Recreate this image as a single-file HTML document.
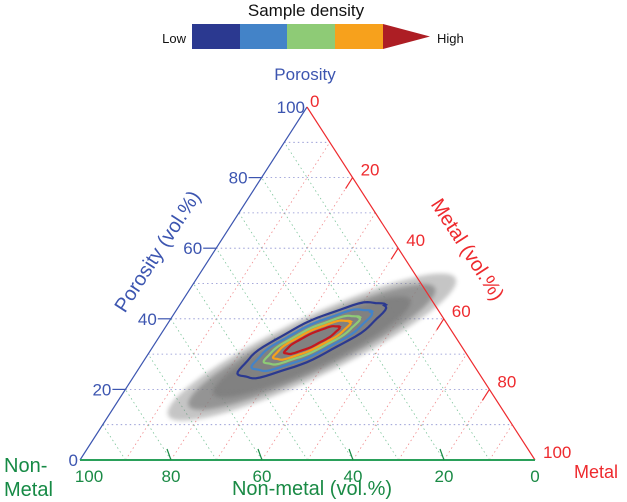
<!DOCTYPE html>
<html><head><meta charset="utf-8"><style>
html,body{margin:0;padding:0;background:#fff;}
svg{display:block;font-family:"Liberation Sans",Arial,sans-serif;}
</style></head><body>
<svg id="chart" width="627" height="502" viewBox="0 0 627 502">
<g>
  <text x="306" y="16" font-size="17" text-anchor="middle" fill="#111">Sample density</text>
  <text x="186" y="43" font-size="13" text-anchor="end" fill="#111">Low</text>
  <rect x="192" y="24" width="48" height="25" fill="#2b3990"/>
  <rect x="240" y="24" width="47" height="25" fill="#4383c8"/>
  <rect x="287" y="24" width="48" height="25" fill="#8ecb76"/>
  <rect x="335" y="24" width="48" height="25" fill="#f7a11c"/>
  <polygon points="383,24 430,36.5 383,49" fill="#ad1e24"/>
  <text x="437" y="43" font-size="13" fill="#111">High</text>
</g>
<text x="305" y="80" font-size="17" text-anchor="middle" fill="#3c55b0">Porosity</text>
<text x="4" y="472" font-size="20" fill="#168a45"><tspan x="4">Non-</tspan><tspan x="4" dy="24">Metal</tspan></text>
<text x="574" y="478" font-size="18" fill="#ee2a2e">Metal</text>
<g id="grid"></g>
<g id="cloud"></g>
<g id="contours"></g>
<g id="axes"></g>
</svg>
<script>
// Data (ternary: porosity P, metal M, non-metal = 100-P-M)
const tickValues = [0, 20, 40, 60, 80, 100];
const gridValues = [10, 20, 30, 40, 50, 60, 70, 80, 90];
const cloudCenter = [32, 35];            // [porosity, metal]
const cloudMajor = [35, 30, 24];         // semi-axis along trend (vol.% of side)
const cloudMinor = [6.5, 5.4, 4.5];
const cloudOpacity = [0.45, 0.7, 0.95];
const contourNames = ['level-1', 'level-2', 'level-3', 'level-4', 'level-5'];
const contourCenter = [34, 34];
const contourMajor = [17.6, 14.3, 11.4, 9.2, 6.6];
const contourMinor = [3.9, 3.1, 2.4, 1.9, 1.3];
const contourColors = ['#2b3990', '#4383c8', '#8ecb76', '#f7a11c', '#c4171f'];
const trendAngle = 25.5; // degrees

const NS = 'http://www.w3.org/2000/svg';
const TOP = [307, 107], BL = [80, 460], BR = [535, 460];
const SIDE = BR[0] - BL[0];
function pt(P, M) { const N = 100 - P - M;
  return [(P*TOP[0] + M*BR[0] + N*BL[0]) / 100, (P*TOP[1] + M*BR[1] + N*BL[1]) / 100]; }
function mk(tag, attrs, parent) { const e = document.createElementNS(NS, tag);
  for (const k in attrs) e.setAttribute(k, attrs[k]); parent.appendChild(e); return e; }
function line(a, b, attrs, parent) { return mk('line', Object.assign({x1:a[0], y1:a[1], x2:b[0], y2:b[1]}, attrs), parent); }

const grid = document.getElementById('grid');
gridValues.forEach(v => {
  let l = line(pt(v, 0), pt(v, 100 - v), {stroke:'#8a8fd0', 'stroke-width':0.8, 'stroke-dasharray':'1.5 3'}, grid);
  
  
  l = line(pt(0, v), pt(100 - v, v), {stroke:'#f08a8c', 'stroke-width':0.8, 'stroke-dasharray':'1.5 3'}, grid);
  
  
  const N = v;
  l = line(pt(0, 100 - N), pt(100 - N, 0), {stroke:'#7cc49a', 'stroke-width':0.8, 'stroke-dasharray':'1.5 3'}, grid);
  
  
});

function ellipsePath(center, major, minor, jitter) {
  const c = pt(center[0], center[1]);
  const a = major/100*SIDE, b = minor/100*SIDE, th = trendAngle*Math.PI/180;
  let d = '';
  for (let i = 0; i <= 72; i++) {
    const t = i/72*2*Math.PI;
    const j = jitter ? 1 + 0.025*Math.sin(i*7) : 1;
    const ex = a*Math.cos(t)*j, ey = b*Math.sin(t)*j;
    const x = c[0] + ex*Math.cos(th) + ey*Math.sin(th);
    const y = c[1] - ex*Math.sin(th) + ey*Math.cos(th);
    d += (i ? 'L' : 'M') + x.toFixed(1) + ' ' + y.toFixed(1);
  }
  return d + 'Z';
}
const defs = mk('defs', {}, document.getElementById('chart'));
const f = mk('filter', {id:'blur', x:'-20%', y:'-20%', width:'140%', height:'140%'}, defs);
mk('feGaussianBlur', {stdDeviation:'2'}, f);
const cloud = document.getElementById('cloud');


cloudMajor.forEach((m, i) => {
  const p = mk('path', {d: ellipsePath(cloudCenter, m, cloudMinor[i], false), fill:'#808080', opacity:cloudOpacity[i], filter:'url(#blur)'}, cloud);
  
  
});
const cont = document.getElementById('contours');
contourMajor.forEach((m, i) => {
  const p = mk('path', {d: ellipsePath(contourCenter, m, contourMinor[i], true), fill:'none', stroke:contourColors[i], 'stroke-width':2.2}, cont);
  
  
});

const axes = document.getElementById('axes');
let e;
e = line(BL, TOP, {stroke:'#3c55b0', 'stroke-width':1.2}, axes);
 
e = line(TOP, BR, {stroke:'#ee2a2e', 'stroke-width':1.2}, axes);
 
e = line(BL, BR, {stroke:'#2aa05a', 'stroke-width':2}, axes);
 

function txt(x, y, s, attrs) { const t = mk('text', Object.assign({x:x, y:y, 'font-size':17}, attrs), axes); t.textContent = s; return t; }
tickValues.forEach(v => {
  const p = pt(v, 0);
  if (v > 0 && v < 100) { e = line([p[0]-13, p[1]], p, {stroke:'#3c55b0', 'stroke-width':1.2}, axes);
      }
  e = txt(p[0] - (v > 0 && v < 100 ? 14 : 2), p[1] + 6, String(v), {fill:'#3c55b0', 'text-anchor':'end'});
   
  const m = pt(100 - v, v);
  if (v > 0 && v < 100) { e = line(m, [m[0]-7, m[1]+11], {stroke:'#ee2a2e', 'stroke-width':1.2}, axes);
      }
  e = txt(m[0] + (v === 0 ? 3 : 8), m[1] + (v === 0 ? 0 : -2), String(v), {fill:'#ee2a2e'});
   
  const n = pt(0, 100 - v);
  if (v > 0 && v < 100) { e = line(n, [n[0]-4, n[1]-11], {stroke:'#1a8a45', 'stroke-width':1.2}, axes);
      }
  e = txt(n[0] + (v === 100 ? 9 : 0), n[1] + 22, String(v), {fill:'#1a8a45', 'text-anchor':'middle'});
   
});
e = txt(0, 0, 'Porosity (vol.%)', {fill:'#3c55b0', 'font-size':20, 'text-anchor':'middle', transform:'translate(163,255) rotate(-57)'});
 
e = txt(0, 0, 'Metal (vol.%)', {fill:'#ee2a2e', 'font-size':20, 'text-anchor':'middle', transform:'translate(462,253) rotate(57)'});
 
e = txt(312, 495, 'Non-metal (vol.%)', {fill:'#1a8a45', 'font-size':20, 'text-anchor':'middle'});
 
</script>
</body></html>
